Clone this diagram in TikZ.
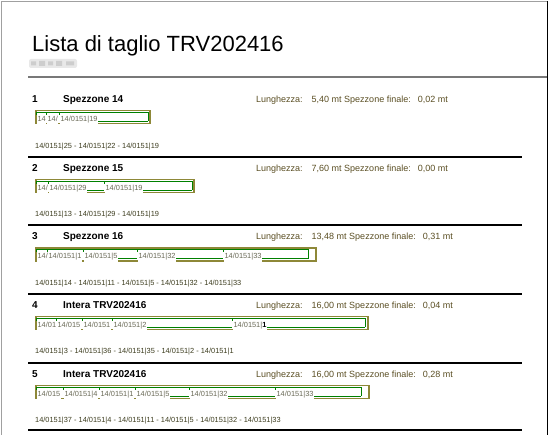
\documentclass[tikz,border=0pt]{standalone}
\usepackage{fontspec}
\setmainfont{Liberation Sans}
\definecolor{frame_gray}{RGB}{160,160,160}
\definecolor{rule_gray}{RGB}{120,120,120}
\definecolor{blur_gray}{RGB}{232,232,232}
\definecolor{blur_dark}{RGB}{205,205,205}
\definecolor{bar_olive}{RGB}{142,136,56}
\definecolor{bar_green}{RGB}{0,128,0}
\definecolor{text_olive}{RGB}{90,78,35}
\definecolor{text_list}{RGB}{60,60,30}
\definecolor{text_bar}{RGB}{105,105,85}

\begin{document}
\begin{tikzpicture}[x=1pt,y=-1pt]
    \tikzstyle{titletext}=[anchor=base west,inner sep=0,font=\fontsize{22}{24}\selectfont]
    \tikzstyle{headtext}=[anchor=base west,inner sep=0,font=\fontsize{10}{12}\selectfont\bfseries]
    \tikzstyle{infotext}=[anchor=base west,inner sep=0,text=text_olive,font=\fontsize{9}{10}\selectfont]
    \tikzstyle{listtext}=[anchor=base west,inner sep=0,text=text_list,font=\fontsize{7.4}{9}\selectfont]
    \tikzstyle{piecetext}=[anchor=base west,inner xsep=0.4pt,inner ysep=0pt,text height=5.6pt,text depth=3pt,fill=white,text=text_bar,font=\fontsize{7.4}{9}\selectfont]
    \tikzstyle{barframe}=[draw=bar_olive,line width=1.1pt]
    \tikzstyle{cutline}=[draw=bar_green,line width=0.9pt]
    \tikzstyle{joinline}=[draw=bar_green,line width=0.9pt]
    \tikzstyle{sectionrule}=[draw=black,line width=2pt]

    % page frame and header
    \useasboundingbox (0,0) rectangle (550,435);
    \draw[frame_gray,line width=1.2pt] (1.5,435) -- (1.5,1.5) -- (547.5,1.5);
    \draw[black,line width=1.4pt] (547.5,1.5) -- (547.5,435);
    \node[titletext] (title) at (32,51.5) {Lista di taglio TRV202416};
    \fill[blur_gray,rounded corners=2pt] (29,59) rectangle (77,68);
    \fill[blur_dark] (31,61.5) rectangle (36,65.5) (39,61) rectangle (45,66) (48,61.5) rectangle (53,65.5) (56,61) rectangle (62,66) (66,61.5) rectangle (74,65.5);
    \draw[rule_gray,line width=1.5pt] (28,77) -- (547,77);

    % 1
    \node[headtext] (s1num) at (32,102.5) {1};
    \node[headtext] (s1name) at (63,102.5) {Spezzone 14};
    \node[infotext] (s1info) at (256,102.2) {Lunghezza:\hspace{9pt}5,40 mt Spezzone finale:\hspace{7pt}0,02 mt};
    \draw[barframe] (36,110.5) rectangle (150,123.5);
    \draw[cutline] (36,112) -- (148,112) -- (148,121.3);
    \draw[cutline] (36,112) -- (36,115) (46,112) -- (46,115) (59,112) -- (59,115);
    \node[piecetext] (p1a) at (37,121.2) {14};
    \node[piecetext] (p1b) at (47,121.2) {14/};
    \node[piecetext] (p1c) at (60,121.2) {14/0151|19};
    \coordinate (e1c) at (148,121.3);
    \draw[joinline] (p1c.east |- e1c) -- (e1c);
    \node[listtext] (s1list) at (35,148.7) {14/0151|25 - 14/0151|22 - 14/0151|19};
    \draw[sectionrule] (28,157) -- (522,157);

    % 2
    \node[headtext] (s2num) at (32,171.5) {2};
    \node[headtext] (s2name) at (63,171.5) {Spezzone 15};
    \node[infotext] (s2info) at (256,171.2) {Lunghezza:\hspace{9pt}7,60 mt Spezzone finale:\hspace{7pt}0,00 mt};
    \draw[barframe] (36,179.5) rectangle (194,192.5);
    \draw[cutline] (36,181) -- (192,181) -- (192,190.3);
    \draw[cutline] (36,181) -- (36,184) (48,181) -- (48,184) (104,181) -- (104,184);
    \node[piecetext] (p2a) at (37,190.2) {14/};
    \node[piecetext] (p2b) at (49,190.2) {14/0151|29};
    \node[piecetext] (p2c) at (105,190.2) {14/0151|19};
    \coordinate (e2b) at (104,190.3);
    \coordinate (e2c) at (192,190.3);
    \draw[joinline] (p2b.east |- e2b) -- (e2b);
    \draw[joinline] (p2c.east |- e2c) -- (e2c);
    \node[listtext] (s2list) at (35,216.7) {14/0151|13 - 14/0151|29 - 14/0151|19};
    \draw[sectionrule] (28,225.5) -- (522,225.5);

    % 3
    \node[headtext] (s3num) at (32,240) {3};
    \node[headtext] (s3name) at (63,240) {Spezzone 16};
    \node[infotext] (s3info) at (256,239.7) {Lunghezza:\hspace{9pt}13,48 mt Spezzone finale:\hspace{7pt}0,31 mt};
    \draw[barframe] (36,248) rectangle (316,261);
    \draw[cutline] (36,249.5) -- (308,249.5) -- (308,258.8);
    \draw[cutline] (36,249.5) -- (36,252.5) (47,249.5) -- (47,252.5) (83,249.5) -- (83,252.5)
        (137,249.5) -- (137,252.5) (223,249.5) -- (223,252.5);
    \node[piecetext] (p3a) at (37,258.7) {14/};
    \node[piecetext] (p3b) at (48,258.7) {14/0151|1};
    \node[piecetext] (p3c) at (84,258.7) {14/0151|5};
    \node[piecetext] (p3d) at (138,258.7) {14/0151|32};
    \node[piecetext] (p3e) at (224,258.7) {14/0151|33};
    \coordinate (e3c) at (137,258.8);
    \coordinate (e3d) at (223,258.8);
    \coordinate (e3e) at (308,258.8);
    \draw[joinline] (p3c.east |- e3c) -- (e3c);
    \draw[joinline] (p3d.east |- e3d) -- (e3d);
    \draw[joinline] (p3e.east |- e3e) -- (e3e);
    \node[listtext] (s3list) at (35,285.2) {14/0151|14 - 14/0151|11 - 14/0151|5 - 14/0151|32 - 14/0151|33};
    \draw[sectionrule] (28,294) -- (522,294);

    % 4
    \node[headtext] (s4num) at (32,308.5) {4};
    \node[headtext] (s4name) at (63,308.5) {Intera TRV202416};
    \node[infotext] (s4info) at (256,308.2) {Lunghezza:\hspace{9pt}16,00 mt Spezzone finale:\hspace{7pt}0,04 mt};
    \draw[barframe] (36,316.5) rectangle (368,329.5);
    \draw[cutline] (36,318) -- (365,318) -- (365,327.3);
    \draw[cutline] (36,318) -- (36,321) (56,318) -- (56,321) (82,318) -- (82,321)
        (112,318) -- (112,321) (232,318) -- (232,321);
    \node[piecetext] (p4a) at (37,327.2) {14/01};
    \node[piecetext] (p4b) at (57,327.2) {14/015};
    \node[piecetext] (p4c) at (83,327.2) {14/0151};
    \node[piecetext] (p4d) at (113,327.2) {14/0151|2};
    \node[piecetext] (p4e) at (233,327.2) {14/0151|{\color{black}\bfseries 1}};
    \coordinate (e4d) at (232,327.3);
    \coordinate (e4e) at (365,327.3);
    \draw[joinline] (p4d.east |- e4d) -- (e4d);
    \draw[joinline] (p4e.east |- e4e) -- (e4e);
    \node[listtext] (s4list) at (35,353.7) {14/0151|3 - 14/0151|36 - 14/0151|35 - 14/0151|2 - 14/0151|1};
    \draw[sectionrule] (28,363) -- (522,363);

    % 5
    \node[headtext] (s5num) at (32,377.5) {5};
    \node[headtext] (s5name) at (63,377.5) {Intera TRV202416};
    \node[infotext] (s5info) at (256,377.2) {Lunghezza:\hspace{9pt}16,00 mt Spezzone finale:\hspace{7pt}0,28 mt};
    \draw[barframe] (36,385.5) rectangle (369,398.5);
    \draw[cutline] (36,387) -- (361,387) -- (361,396.3);
    \draw[cutline] (36,387) -- (36,390) (63,387) -- (63,390) (99,387) -- (99,390)
        (135,387) -- (135,390) (189,387) -- (189,390) (275,387) -- (275,390);
    \node[piecetext] (p5a) at (37,396.2) {14/015};
    \node[piecetext] (p5b) at (64,396.2) {14/0151|4};
    \node[piecetext] (p5c) at (100,396.2) {14/0151|1};
    \node[piecetext] (p5d) at (136,396.2) {14/0151|5};
    \node[piecetext] (p5e) at (190,396.2) {14/0151|32};
    \node[piecetext] (p5f) at (276,396.2) {14/0151|33};
    \coordinate (e5d) at (189,396.3);
    \coordinate (e5e) at (275,396.3);
    \coordinate (e5f) at (361,396.3);
    \draw[joinline] (p5d.east |- e5d) -- (e5d);
    \draw[joinline] (p5e.east |- e5e) -- (e5e);
    \draw[joinline] (p5f.east |- e5f) -- (e5f);
    \node[listtext] (s5list) at (35,422.7) {14/0151|37 - 14/0151|4 - 14/0151|11 - 14/0151|5 - 14/0151|32 - 14/0151|33};
    \draw[sectionrule] (28,430.5) -- (522,430.5);
  \end{tikzpicture}
\end{document}
